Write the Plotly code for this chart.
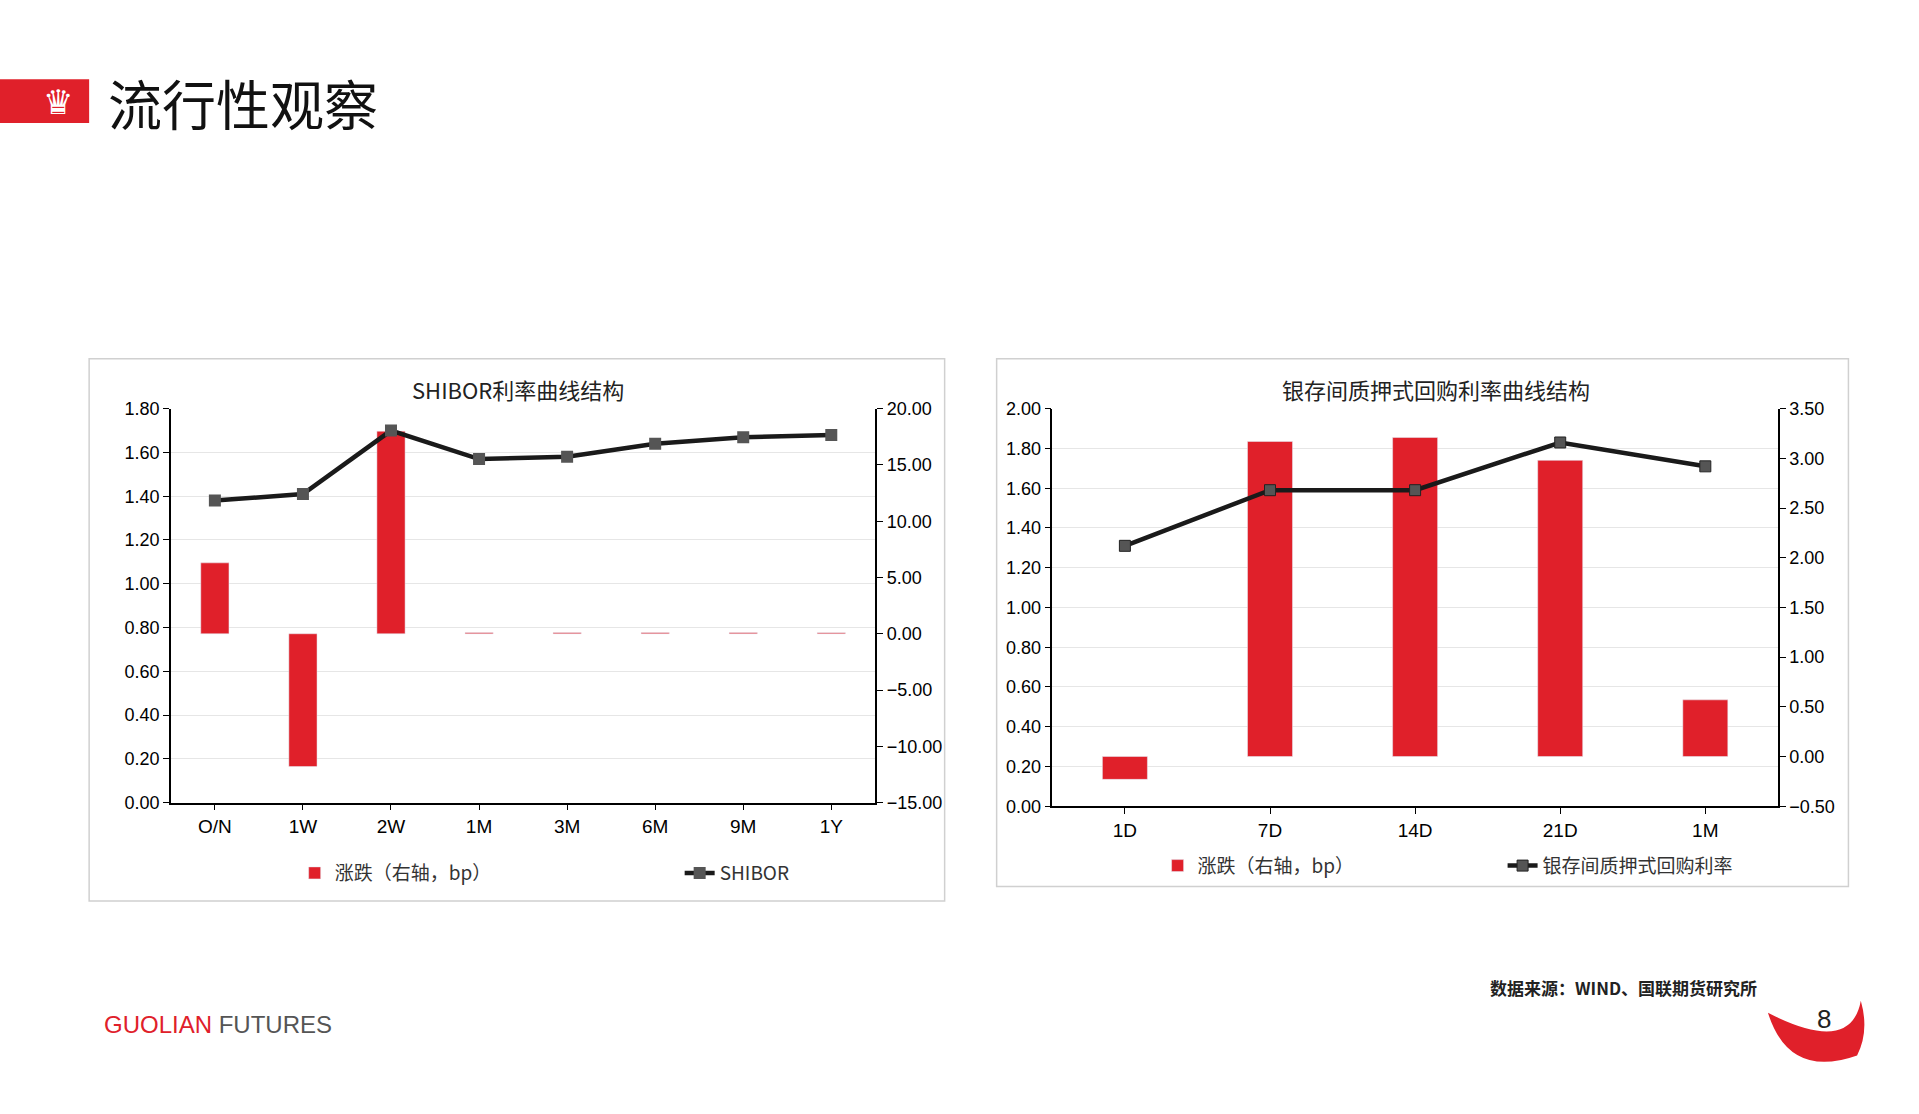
import plotly.graph_objects as go

# 左图 SHIBOR
shibor_terms = ["O/N", "1W", "2W", "1M", "3M", "6M", "9M", "1Y"]
shibor_rate = [1.38, 1.41, 1.70, 1.57, 1.58, 1.64, 1.67, 1.68]
shibor_chg = [6.3, -11.8, 18.0, 0.1, 0.1, 0.1, 0.1, 0.1]

# 右图 银存间质押式回购
repo_terms = ["1D", "7D", "14D", "21D", "1M"]
repo_rate = [1.31, 1.59, 1.59, 1.83, 1.71]
repo_chg = [-0.23, 3.17, 3.21, 2.98, 0.57]

RED = "#e0202a"
W, H = 1550.0, 900.0
def px(x): return x / W
def py(y): return 1 - y / H

tick_font = dict(family="Liberation Sans, Arial", size=18, color="#000")
cjk = "Noto Sans CJK SC"

fig = go.Figure()
# 柱子画在底层坐标轴（右侧），折线画在叠加坐标轴（左侧）上，保证线在柱子上方
fig.add_trace(go.Bar(x=shibor_terms, y=shibor_chg, marker_color=RED, width=0.32,
                     name="涨跌（右轴，bp）", xaxis="x", yaxis="y", legend="legend", legendrank=1))
fig.add_trace(go.Scatter(x=shibor_terms, y=shibor_rate, mode="lines+markers", name="SHIBOR",
                         line=dict(color="#1a1a1a", width=4.5),
                         marker=dict(symbol="square", size=12, color="#555"),
                         xaxis="x", yaxis="y2", legend="legend", legendrank=2))
fig.add_trace(go.Bar(x=repo_terms, y=repo_chg, marker_color=RED, width=0.31,
                     name="涨跌（右轴，bp）", xaxis="x2", yaxis="y3", legend="legend2", legendrank=1))
fig.add_trace(go.Scatter(x=repo_terms, y=repo_rate, mode="lines+markers", name="银存间质押式回购利率",
                         line=dict(color="#1a1a1a", width=4.5),
                         marker=dict(symbol="square", size=11, color="#555",
                                     line=dict(color="#222", width=1)),
                         xaxis="x2", yaxis="y4", legend="legend2", legendrank=2))

ax = dict(showline=True, linecolor="#000", linewidth=1.5, ticks="outside",
          ticklen=6, tickcolor="#000", tickfont=tick_font, zeroline=False)
xax = dict(ax, tickfont=dict(tick_font, size=19))
fig.update_layout(
    width=1919, height=1114, paper_bgcolor="white", plot_bgcolor="white",
    margin=dict(l=0, r=0, t=0, b=0), barmode="overlay",
    xaxis=dict(xax, domain=[px(138), px(707)], anchor="y", showgrid=False),
    yaxis=dict(ax, domain=[py(652), py(328)], side="right", range=[-15, 20], dtick=5,
               tickformat=".2f", showgrid=False, anchor="x"),
    yaxis2=dict(ax, overlaying="y", side="left", anchor="x", range=[0, 1.8], dtick=0.2,
                tickformat=".2f", showgrid=True, gridcolor="#e6e6e6"),
    xaxis2=dict(xax, domain=[px(850), px(1436)], anchor="y3", showgrid=False),
    yaxis3=dict(ax, domain=[py(655), py(328)], side="right", range=[-0.5, 3.5], dtick=0.5,
                tickformat=".2f", showgrid=False, anchor="x2"),
    yaxis4=dict(ax, overlaying="y3", side="left", anchor="x2", range=[0, 2.0], dtick=0.2,
                tickformat=".2f", showgrid=True, gridcolor="#e6e6e6"),
    legend=dict(orientation="h", x=px(238), y=py(710), yanchor="middle", xanchor="left",
                bgcolor="rgba(0,0,0,0)",
                font=dict(family=cjk, size=19, color="#333"), entrywidth=340),
    legend2=dict(orientation="h", x=px(935), y=py(704), yanchor="middle", xanchor="left",
                 bgcolor="rgba(0,0,0,0)",
                 font=dict(family=cjk, size=19, color="#333"), entrywidth=300),
    shapes=[
        dict(type="rect", xref="paper", yref="paper", x0=px(72), x1=px(763), y0=py(733), y1=py(287),
             line=dict(color="#d0d0d0", width=1.5)),
        dict(type="rect", xref="paper", yref="paper", x0=px(805), x1=px(1493), y0=py(721), y1=py(287),
             line=dict(color="#d0d0d0", width=1.5)),
        dict(type="rect", xref="paper", yref="paper", x0=0, x1=px(72), y0=py(93), y1=py(57),
             fillcolor=RED, line=dict(width=0)),
        dict(type="path", xref="paper", yref="paper",
             path=f"M {px(1428)},{py(825)} Q {px(1445)},{py(880)} {px(1500)},{py(860)} "
                  f"Q {px(1510)},{py(840)} {px(1503)},{py(815)} Q {px(1495)},{py(860)} {px(1428)},{py(825)} Z",
             fillcolor=RED, line=dict(width=0)),
    ],
    annotations=[
        dict(text="♛", x=px(47), y=py(75), xref="paper", yref="paper", showarrow=False,
             xanchor="center", yanchor="middle", font=dict(size=34, color="white")),
        dict(text="流行性观察", x=px(86), y=py(76), xref="paper", yref="paper", showarrow=False,
             xanchor="left", yanchor="middle", font=dict(family=cjk, size=54, color="#111")),
        dict(text="SHIBOR利率曲线结构", x=px(418), y=py(312), xref="paper", yref="paper",
             xanchor="center", yanchor="middle",
             showarrow=False, font=dict(family=cjk, size=22, color="#222")),
        dict(text="银存间质押式回购利率曲线结构", x=px(1160), y=py(312), xref="paper", yref="paper",
             xanchor="center", yanchor="middle",
             showarrow=False, font=dict(family=cjk, size=22, color="#222")),
        dict(text="<b>数据来源：WIND、国联期货研究所</b>", x=px(1421), y=py(804), xref="paper", yref="paper",
             showarrow=False, xanchor="right", yanchor="middle",
             font=dict(family=cjk, size=17, color="#222")),
        dict(text="<span style='color:#e0202a'>GUOLIAN</span> FUTURES", x=px(82), y=py(835),
             xref="paper", yref="paper", showarrow=False, xanchor="left", yanchor="middle",
             font=dict(family="Liberation Sans Narrow, Liberation Sans", size=24, color="#555")),
        dict(text="8", x=px(1473), y=py(830), xref="paper", yref="paper", showarrow=False,
             xanchor="center", yanchor="middle",
             font=dict(family="Liberation Sans", size=26, color="#222")),
    ],
)
fig.write_html("out.html", config={"displayModeBar": False},
               post_script="document.body.style.margin='0';")
